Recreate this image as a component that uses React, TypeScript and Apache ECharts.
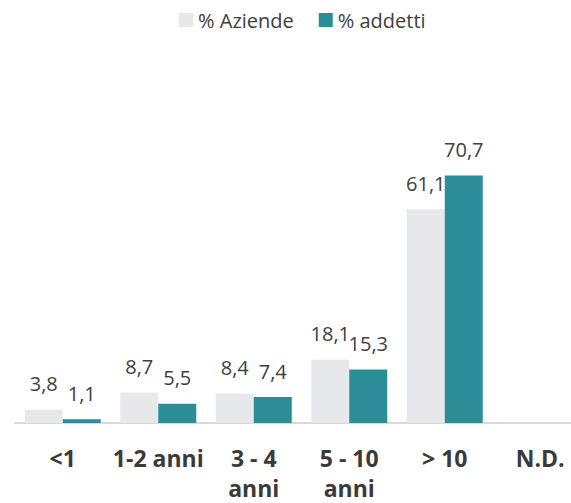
import React, { useEffect, useRef } from "react";
import * as echarts from "echarts";

const categories = ["<1", "1-2 anni", "3 - 4 anni", "5 - 10 anni", "> 10", "N.D."];
const seriesNames = ["% Aziende", "% addetti"];
const aziende: (number | null)[] = [3.8, 8.7, 8.4, 18.1, 61.1, null];
const addetti: (number | null)[] = [1.1, 5.5, 7.4, 15.3, 70.7, null];

const FONT = "'Open Sans', 'Noto Sans', sans-serif";

export default function App() {
  const ref = useRef<HTMLDivElement>(null);
  useEffect(() => {
    if (!ref.current) return;
    const chart = echarts.init(ref.current, undefined, { renderer: "svg" });
    const label = {
      show: true,
      position: "top",
      distance: 16,
      color: "#404040",
      fontFamily: FONT,
      fontSize: 20,
      formatter: (p: any) => (p.value == null ? "" : Number(p.value).toFixed(1).replace(".", ",")),
    };
    chart.setOption({
      animation: false,
      legend: {
        top: 5,
        left: 174,
        itemWidth: 14,
        itemHeight: 14,
        itemGap: 25,
        icon: "rect",
        textStyle: { fontFamily: FONT, fontSize: 20, color: "#404040" },
        data: seriesNames,
      },
      grid: { left: 15, width: 573, top: 143, bottom: 76, containLabel: false },
      xAxis: {
        type: "category",
        data: categories,
        axisLine: { lineStyle: { color: "#D9D9D9", width: 2 } },
        axisTick: { show: false },
        axisLabel: {
          interval: 0,
          margin: 20,
          fontFamily: FONT,
          fontSize: 23,
          fontWeight: "bold",
          color: "#3A3A3A",
          lineHeight: 30,
          formatter: (v: string) => (v.includes(" - ") ? v.replace(/ (anni)$/, "\n$1") : v),
        },
      },
      yAxis: { type: "value", min: 0, max: 80, show: false, splitLine: { show: false } },
      series: [
        {
          name: seriesNames[0],
          type: "bar",
          data: aziende,
          barWidth: 38,
          barGap: "0%",
          itemStyle: { color: "#E7E8EA" },
          label,
        },
        {
          name: seriesNames[1],
          type: "bar",
          data: addetti,
          barWidth: 38,
          barGap: "0%",
          itemStyle: { color: "#2A8D98" },
          label,
        },
      ],
    });
    return () => chart.dispose();
  }, []);
  return (
    <div
      ref={ref}
      style={{ position: "fixed", left: 0, top: 0, width: 600, height: 503, background: "#fff" }}
    />
  );
}
